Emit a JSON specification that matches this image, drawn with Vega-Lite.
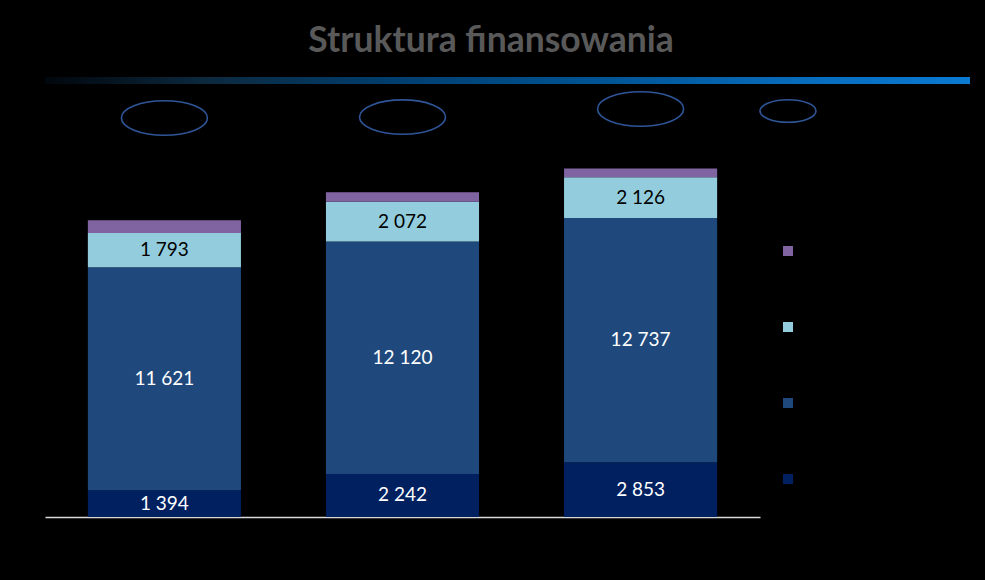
{
  "$schema": "https://vega.github.io/schema/vega-lite/v6.json",
  "background": "#000000",
  "padding": {"left": 20, "top": 23, "right": 15, "bottom": 66},
  "config": {
    "view": {"stroke": null},
    "font": "Lato",
    "locale": {"number": {"decimal": ",", "thousands": " ", "grouping": [3], "currency": ["", " zł"]}}
  },
  "title": {
    "text": "Struktura finansowania",
    "font": "Lato",
    "fontSize": 35.5,
    "fontWeight": "bold",
    "color": "#595959",
    "anchor": "middle",
    "dx": -4,
    "offset": 18
  },
  "spacing": 4,
  "datasets": {
    "slupki": [
      {"okres": "Okres 1", "seria": "Seria 1", "wartosc": 1394},
      {"okres": "Okres 1", "seria": "Seria 2", "wartosc": 11621},
      {"okres": "Okres 1", "seria": "Seria 3", "wartosc": 1793},
      {"okres": "Okres 1", "seria": "Seria 4", "wartosc": 660},
      {"okres": "Okres 2", "seria": "Seria 1", "wartosc": 2242},
      {"okres": "Okres 2", "seria": "Seria 2", "wartosc": 12120},
      {"okres": "Okres 2", "seria": "Seria 3", "wartosc": 2072},
      {"okres": "Okres 2", "seria": "Seria 4", "wartosc": 490},
      {"okres": "Okres 3", "seria": "Seria 1", "wartosc": 2853},
      {"okres": "Okres 3", "seria": "Seria 2", "wartosc": 12737},
      {"okres": "Okres 3", "seria": "Seria 3", "wartosc": 2126},
      {"okres": "Okres 3", "seria": "Seria 4", "wartosc": 450}
    ],
    "elipsy": [
      {"okres": "Okres 1", "poziom": 20800, "typ": "adnotacja"},
      {"okres": "Okres 2", "poziom": 20850, "typ": "adnotacja"},
      {"okres": "Okres 3", "poziom": 21270, "typ": "adnotacja"}
    ]
  },
  "vconcat": [
    {
      "width": 925,
      "height": 7,
      "data": {"values": [{"od": 0, "do": 1}]},
      "mark": {
        "type": "rect",
        "color": {
          "gradient": "linear",
          "x1": 0, "x2": 1, "y1": 0, "y2": 0,
          "stops": [
            {"offset": 0, "color": "#01060c"},
            {"offset": 0.178, "color": "#0c2a40"},
            {"offset": 0.384, "color": "#003f70"},
            {"offset": 0.589, "color": "#005392"},
            {"offset": 0.816, "color": "#086cbc"},
            {"offset": 1, "color": "#0a7ad2"}
          ]
        }
      },
      "encoding": {
        "x": {"field": "od", "type": "quantitative", "scale": {"domain": [0, 1], "nice": false}, "axis": null},
        "x2": {"field": "do"}
      }
    },
    {
      "width": 715,
      "height": 422,
      "encoding": {
        "x": {
          "field": "okres",
          "type": "nominal",
          "scale": {"paddingInner": 0.357, "paddingOuter": 0.18},
          "axis": {"title": null, "labels": false, "ticks": false, "domainColor": "#d9d9d9", "domainWidth": 1.5, "grid": false}
        }
      },
      "layer": [
        {
          "data": {"name": "slupki"},
          "mark": {"type": "bar"},
          "encoding": {
            "y": {
              "field": "wartosc",
              "type": "quantitative",
              "aggregate": "sum",
              "stack": "zero",
              "scale": {"domain": [0, 22000], "nice": false},
              "axis": {"title": null, "labels": false, "ticks": false, "domain": false, "grid": false, "minExtent": 25, "maxExtent": 25}
            },
            "color": {
              "field": "seria",
              "type": "nominal",
              "scale": {
                "domain": ["Seria 4", "Seria 3", "Seria 2", "Seria 1"],
                "range": ["#8064a2", "#93cddd", "#1f497d", "#002060"]
              },
              "legend": {
                "title": null,
                "orient": "none",
                "legendX": 738,
                "legendY": 169,
                "padding": 0,
                "symbolType": "square",
                "symbolSize": 100,
                "symbolStrokeWidth": 0,
                "labelFontSize": 10,
                "labelColor": "#000000",
                "rowPadding": 66
              }
            },
            "order": {"field": "seria", "sort": "ascending"}
          }
        },
        {
          "data": {"name": "slupki"},
          "transform": [{"filter": "datum.seria !== 'Seria 4'"}],
          "mark": {"type": "text", "font": "Lato", "fontSize": 19, "baseline": "middle", "align": "center"},
          "encoding": {
            "y": {"field": "wartosc", "type": "quantitative", "stack": "zero", "bandPosition": 0.5},
            "order": {"field": "seria", "sort": "ascending"},
            "text": {"field": "wartosc", "type": "quantitative", "format": ",d"},
            "color": {
              "condition": {"test": "datum.seria === 'Seria 3'", "value": "#000000"},
              "value": "#ffffff"
            }
          }
        },
        {
          "data": {"name": "elipsy"},
          "mark": {
            "type": "point",
            "filled": false,
            "stroke": "#2f5597",
            "strokeWidth": 1.6,
            "size": 7396,
            "opacity": 1
          },
          "encoding": {
            "y": {"field": "poziom", "type": "quantitative"},
            "shape": {
              "field": "typ",
              "type": "nominal",
              "scale": {"range": ["M -1 0 A 1 0.4 0 1 0 1 0 A 1 0.4 0 1 0 -1 0 Z"]},
              "legend": {
                "title": null,
                "orient": "none",
                "legendX": 714,
                "legendY": 5,
                "padding": 0,
                "symbolSize": 3136,
                "symbolStrokeColor": "#2f5597",
                "symbolFillColor": "transparent",
                "symbolStrokeWidth": 1.6,
                "symbolOpacity": 1,
                "labelFontSize": 10,
                "labelColor": "#000000"
              }
            }
          }
        }
      ]
    }
  ]
}
